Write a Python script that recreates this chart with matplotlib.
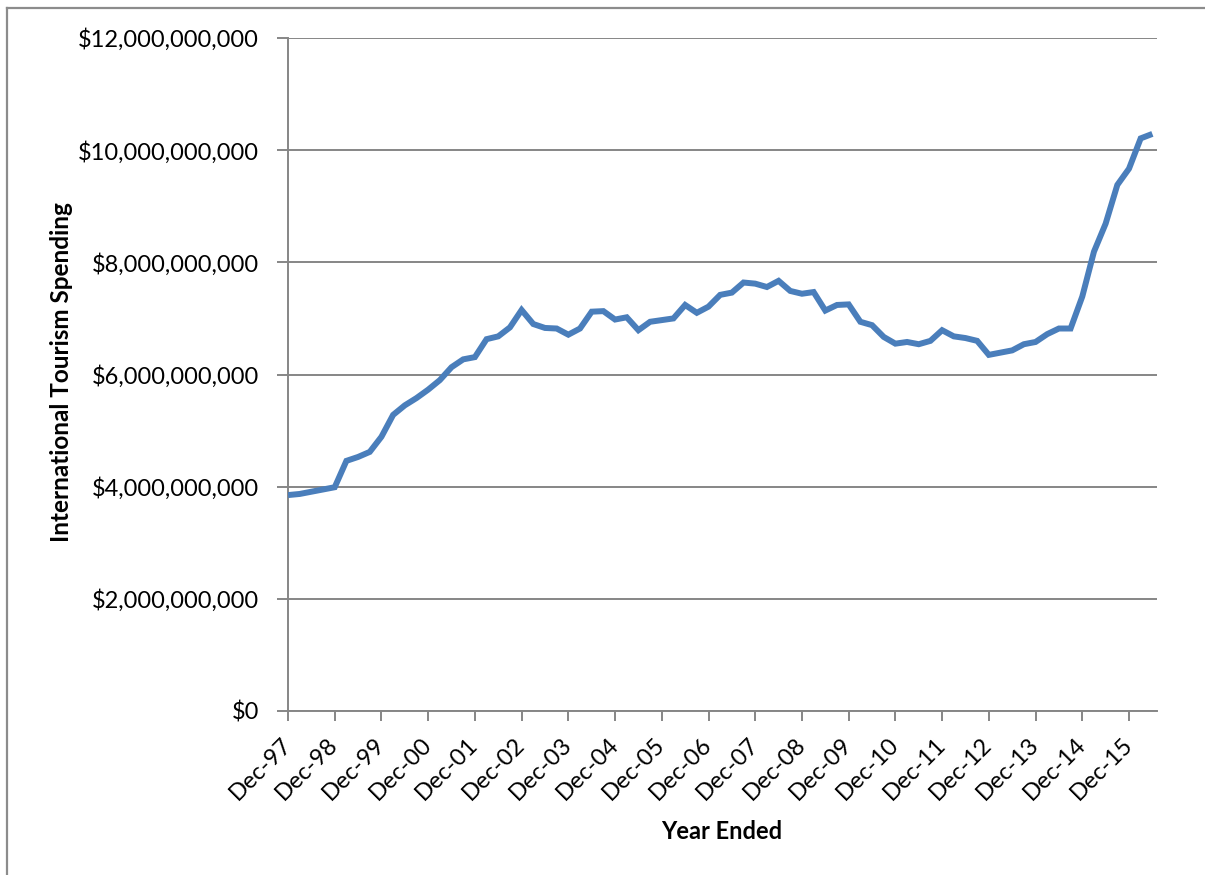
import matplotlib
matplotlib.use("Agg")
import matplotlib.pyplot as plt
from matplotlib.lines import Line2D
from matplotlib.ticker import FuncFormatter
from matplotlib.transforms import ScaledTranslation

plt.rcParams['font.family'] = ['Lato', 'DejaVu Sans']

# Quarterly values (billions of dollars), Dec-97 .. Jun-16
spending_bn = [
    3.85, 3.87, 3.91, 3.95, 3.99, 4.46, 4.53, 4.62, 4.89, 5.28,
    5.45, 5.58, 5.73, 5.90, 6.13, 6.27, 6.31, 6.63, 6.68, 6.84,
    7.15, 6.90, 6.83, 6.82, 6.71, 6.82, 7.12, 7.13, 6.98, 7.02,
    6.79, 6.94, 6.97, 7.00, 7.24, 7.10, 7.21, 7.42, 7.46, 7.64,
    7.62, 7.56, 7.67, 7.49, 7.44, 7.47, 7.14, 7.24, 7.25, 6.94,
    6.88, 6.67, 6.55, 6.58, 6.54, 6.60, 6.79, 6.68, 6.65, 6.60,
    6.35, 6.39, 6.43, 6.54, 6.58, 6.72, 6.82, 6.82, 7.39, 8.19,
    8.69, 9.38, 9.67, 10.21, 10.29,
]
tick_labels = ['Dec-97', 'Dec-98', 'Dec-99', 'Dec-00', 'Dec-01', 'Dec-02',
               'Dec-03', 'Dec-04', 'Dec-05', 'Dec-06', 'Dec-07', 'Dec-08',
               'Dec-09', 'Dec-10', 'Dec-11', 'Dec-12', 'Dec-13', 'Dec-14',
               'Dec-15']
y_ticks = [0, 2e9, 4e9, 6e9, 8e9, 10e9, 12e9]

values = [v * 1e9 for v in spending_bn]
xs = list(range(len(values)))

W, H = 1205, 875
fig = plt.figure(figsize=(W / 100, H / 100), dpi=100)
left, right, top, bottom = 288, 1157, 38, 711
ax = fig.add_axes([left / W, 1 - bottom / H, (right - left) / W, (bottom - top) / H])

grid_col = '#868686'
ax.plot(xs, values, color='#4a7ebb', linewidth=4.3, solid_joinstyle='miter',
        solid_capstyle='butt', zorder=3)

ax.set_ylim(0, 12e9)
ax.set_xlim(0, (right - left) / ((1129 - 288) / 72))
ax.set_yticks(y_ticks)
ax.yaxis.set_major_formatter(FuncFormatter(lambda v, p: '${:,.0f}'.format(v)))
ax.yaxis.grid(True, color=grid_col, linewidth=1.4)
ax.set_axisbelow(True)

tick_pos = [4 * i for i in range(len(tick_labels))]
ax.set_xticks(tick_pos)
ax.set_xticklabels(tick_labels, rotation=45, ha='right', va='center',
                   rotation_mode='anchor')
shift = ScaledTranslation(5 / 100, 0, fig.dpi_scale_trans)
for lab in ax.get_xticklabels():
    lab.set_transform(lab.get_transform() + shift)

for s in ['top', 'right']:
    ax.spines[s].set_visible(False)
for s in ['left', 'bottom']:
    ax.spines[s].set_color(grid_col)
    ax.spines[s].set_linewidth(1.4)

ax.tick_params(axis='y', length=8, width=1.4, color=grid_col, labelsize=17,
               pad=13)
ax.tick_params(axis='x', length=7, width=1.4, color=grid_col, labelsize=17,
               pad=15)

ax.set_ylabel('International Tourism Spending', fontsize=17.5, fontweight='bold')
ax.yaxis.set_label_coords((73 - left) / (right - left), (711 - 372) / (711 - 38))
ax.set_xlabel('Year Ended', fontsize=17, fontweight='bold')
ax.xaxis.set_label_coords((722 - left) / (right - left), (711 - 820) / (711 - 38))

# outer chart border (left and top visible)
fig.add_artist(Line2D([7 / W, 7 / W], [0, 1 - 8 / H], transform=fig.transFigure,
                      color='#8c8c8c', linewidth=1.6))
fig.add_artist(Line2D([7 / W, 1], [1 - 8 / H, 1 - 8 / H], transform=fig.transFigure,
                      color='#8c8c8c', linewidth=1.6))

fig.savefig('out.png', dpi=100)
